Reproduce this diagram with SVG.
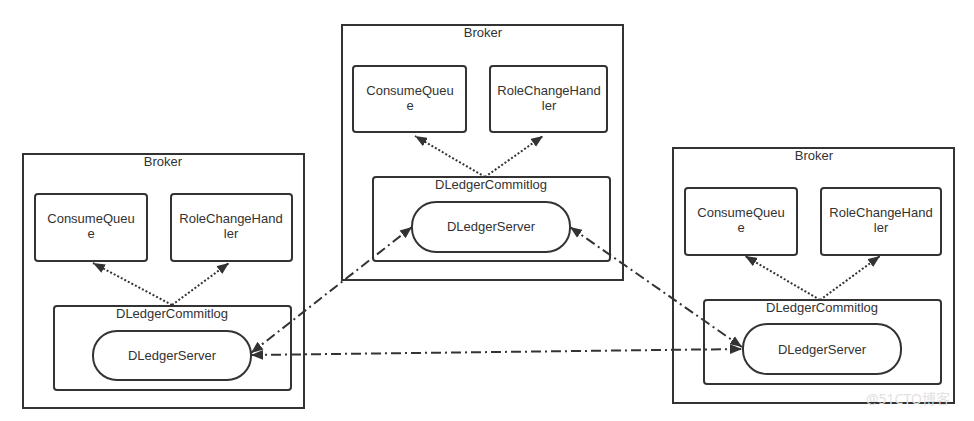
<svg xmlns="http://www.w3.org/2000/svg" width="974" height="421" viewBox="0 0 974 421">
<defs>
<marker id="ah" viewBox="0 0 10 8" refX="10" refY="4" markerWidth="12" markerHeight="10" markerUnits="userSpaceOnUse" orient="auto-start-reverse">
<path d="M0,0 L10,4 L0,8 Z" fill="#333"/>
</marker>
<style>
.outer{fill:#fff;stroke:#333;stroke-width:2}
.box{fill:#fff;stroke:#333;stroke-width:2}
.t{font-family:"Liberation Sans",Arial,sans-serif;font-size:13px;fill:#333;text-anchor:middle}
.dot{fill:none;stroke:#333;stroke-width:2;stroke-dasharray:2 2}
.dd{fill:none;stroke:#333;stroke-width:2;stroke-dasharray:10 4 2 4}
.wm{font-family:"Noto Sans","Noto Sans CJK SC",sans-serif;font-size:14px;fill:#e2e2e2}
</style>
</defs>
<rect width="974" height="421" fill="#fff"/>

<g id="broker-left">
<rect class="outer" x="23" y="154" width="281" height="254"/>
<text class="t" x="163" y="166">Broker</text>
</g>
<g id="cq-left">
<rect class="box" x="35" y="194" width="112" height="67" rx="3"/>
<text class="t" x="91" y="223">ConsumeQueu</text>
<text class="t" x="91" y="238">e</text>
</g>
<g id="rch-left">
<rect class="box" x="171" y="194" width="121" height="67" rx="3"/>
<text class="t" x="231" y="223">RoleChangeHand</text>
<text class="t" x="231" y="238">ler</text>
</g>
<g id="cl-left">
<rect class="box" x="54" y="306" width="237" height="84" rx="3"/>
<text class="t" x="172" y="318">DLedgerCommitlog</text>
</g>
<g id="ds-left">
<rect class="box" x="93" y="331" width="158" height="49" rx="24"/>
<text class="t" x="172" y="360">DLedgerServer</text>
</g>

<g id="broker-mid">
<rect class="outer" x="342" y="25" width="281" height="255"/>
<text class="t" x="483" y="37">Broker</text>
</g>
<g id="cq-mid">
<rect class="box" x="353" y="66" width="113" height="66" rx="3"/>
<text class="t" x="410" y="95">ConsumeQueu</text>
<text class="t" x="410" y="110">e</text>
</g>
<g id="rch-mid">
<rect class="box" x="490" y="66" width="117" height="66" rx="3"/>
<text class="t" x="549" y="95">RoleChangeHand</text>
<text class="t" x="549" y="110">ler</text>
</g>
<g id="cl-mid">
<rect class="box" x="373" y="177" width="237" height="84" rx="3"/>
<text class="t" x="491" y="189">DLedgerCommitlog</text>
</g>
<g id="ds-mid">
<rect class="box" x="412" y="202" width="158" height="50" rx="24"/>
<text class="t" x="491" y="231">DLedgerServer</text>
</g>

<g id="broker-right">
<rect class="outer" x="673" y="148" width="281" height="255"/>
<text class="t" x="814" y="160">Broker</text>
</g>
<g id="cq-right">
<rect class="box" x="685" y="188" width="112" height="67" rx="3"/>
<text class="t" x="741" y="217">ConsumeQueu</text>
<text class="t" x="741" y="232">e</text>
</g>
<g id="rch-right">
<rect class="box" x="821" y="188" width="120" height="67" rx="3"/>
<text class="t" x="881" y="217">RoleChangeHand</text>
<text class="t" x="881" y="232">ler</text>
</g>
<g id="cl-right">
<rect class="box" x="704" y="300" width="237" height="84" rx="3"/>
<text class="t" x="822" y="312">DLedgerCommitlog</text>
</g>
<g id="ds-right">
<rect class="box" x="743" y="324" width="158" height="50" rx="24"/>
<text class="t" x="822" y="354">DLedgerServer</text>
</g>

<g id="connectors">
<path class="dot" d="M172,305 L93,263" marker-end="url(#ah)"/>
<path class="dot" d="M172,305 L229,263" marker-end="url(#ah)"/>
<path class="dot" d="M485,177 L415,136" marker-end="url(#ah)"/>
<path class="dot" d="M485,177 L543,136" marker-end="url(#ah)"/>
<path class="dot" d="M820,300 L745,256" marker-end="url(#ah)"/>
<path class="dot" d="M820,300 L880,256" marker-end="url(#ah)"/>
<path class="dd" d="M251,353 L412,227" marker-start="url(#ah)" marker-end="url(#ah)"/>
<path class="dd" d="M570,227 L742,347" marker-start="url(#ah)" marker-end="url(#ah)"/>
<path class="dd" d="M251,355 L742,349" marker-start="url(#ah)" marker-end="url(#ah)"/>
</g>

<text class="wm" x="866" y="404">@51CTO博客</text>
</svg>
